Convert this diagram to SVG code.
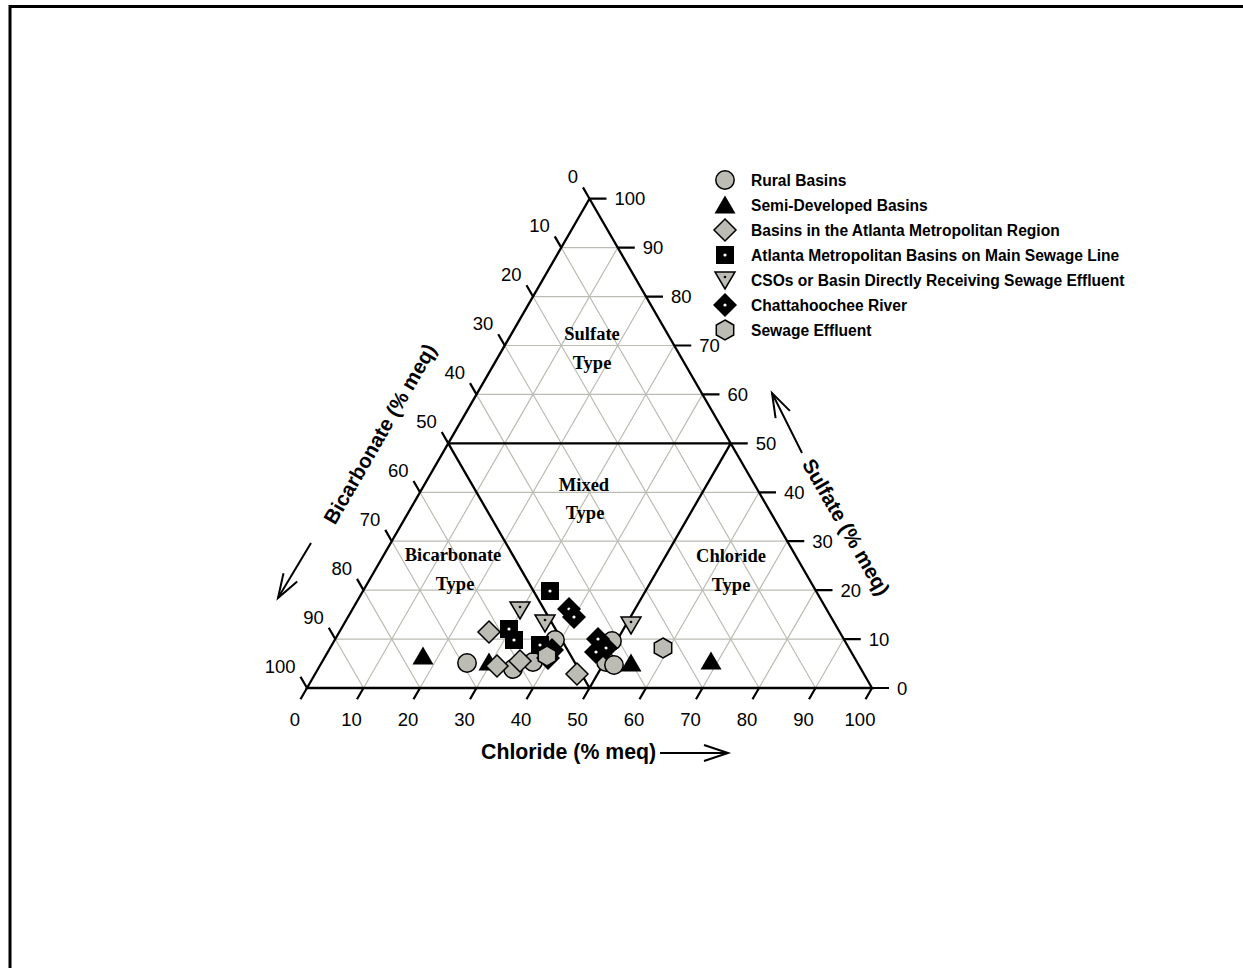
<svg xmlns="http://www.w3.org/2000/svg" xmlns:xlink="http://www.w3.org/1999/xlink" width="1243" height="968" viewBox="0 0 1243 968">
<style>
.grid{stroke:#bcbcb4;stroke-width:1.2;fill:none}
.edge{stroke:#000;stroke-width:2.3;fill:none}
.tick{stroke:#000;stroke-width:2.2;fill:none}
.num{font-family:"Liberation Sans",Arial,sans-serif;font-size:18.5px;fill:#000}
.ttl{font-family:"Liberation Sans",Arial,sans-serif;font-size:20.5px;font-weight:bold;fill:#000}
.reg{font-family:"Liberation Serif","Times New Roman",serif;font-size:18.5px;font-weight:bold;fill:#000;text-anchor:middle}
.leg{font-family:"Liberation Sans",Arial,sans-serif;font-size:15.6px;font-weight:bold;fill:#000}
.arr{stroke:#000;stroke-width:2;fill:none}
</style>
<defs>
<marker id="open" markerUnits="userSpaceOnUse" markerWidth="30" markerHeight="20" viewBox="-26 -10 28 20" refX="0" refY="0" orient="auto" overflow="visible">
<path d="M-24,-8 L0,0 L-24,8" fill="none" stroke="#000" stroke-width="2"/>
</marker>
<g id="circ"><circle r="9.2" fill="#bcbcb4" stroke="#000" stroke-width="1.5"/></g>
<g id="tri"><polygon points="0,-9.5 10.5,8.5 -10.5,8.5" fill="#000"/></g>
<g id="dia"><polygon points="0,-11 11,0 0,11 -11,0" fill="#bcbcb4" stroke="#000" stroke-width="1.5"/></g>
<g id="sq"><rect x="-9" y="-9" width="18" height="18" fill="#000"/><circle r="1.6" fill="#fff"/></g>
<g id="itri"><polygon points="-10,-8 10,-8 0,9" fill="#bcbcb4" stroke="#000" stroke-width="1.5"/><circle cx="0" cy="-3" r="1.3" fill="#000"/></g>
<g id="bdia"><polygon points="0,-12 12,0 0,12 -12,0" fill="#000"/><circle r="1.6" fill="#fff"/></g>
<g id="hex"><polygon points="0,-10 8.7,-5 8.7,5 0,10 -8.7,5 -8.7,-5" fill="#bcbcb4" stroke="#000" stroke-width="1.5"/></g>
</defs>
<rect width="1243" height="968" fill="#fff"/>
<path d="M10,968 V6.5 H1243" stroke="#000" stroke-width="3" fill="none"/>

<g id="grid" class="grid">
<path d="M335.25,639.07H843.75M363.5,590.14H815.5M391.75,541.21H787.25M420,492.28H759M448.25,443.35H730.75M476.5,394.42H702.5M504.75,345.49H674.25M533,296.56H646M561.25,247.63H617.75"/>
<path d="M363.5,688L335.25,639.07M420,688L363.5,590.14M476.5,688L391.75,541.21M533,688L420,492.28M589.5,688L448.25,443.35M646,688L476.5,394.42M702.5,688L504.75,345.49M759,688L533,296.56M815.5,688L561.25,247.63"/>
<path d="M363.5,688L617.75,247.63M420,688L646,296.56M476.5,688L674.25,345.49M533,688L702.5,394.42M589.5,688L730.75,443.35M646,688L759,492.28M702.5,688L787.25,541.21M759,688L815.5,590.14M815.5,688L843.75,639.07"/>
</g>

<g id="triangle">
<polygon class="edge" points="307,688 872,688 589.5,198.7"/>
<path class="edge" d="M448.25,443.35H730.75M448.25,443.35L589.5,688M730.75,443.35L589.5,688"/>
</g>

<g id="ticks" class="tick">
<path d="M589.5,198.7l-6.5,-11.3M561.25,247.63l-6.5,-11.3M533,296.56l-6.5,-11.3M504.75,345.49l-6.5,-11.3M476.5,394.42l-6.5,-11.3M448.25,443.35l-6.5,-11.3M420,492.28l-6.5,-11.3M391.75,541.21l-6.5,-11.3M363.5,590.14l-6.5,-11.3M335.25,639.07l-6.5,-11.3M307,688l-6.5,-11.3"/>
<path d="M872,688h17M843.75,639.07h17M815.5,590.14h17M787.25,541.21h17M759,492.28h17M730.75,443.35h17M702.5,394.42h17M674.25,345.49h17M646,296.56h17M617.75,247.63h17M589.5,198.7h17"/>
<path d="M307,688l-6.5,11.3M363.5,688l-6.5,11.3M420,688l-6.5,11.3M476.5,688l-6.5,11.3M533,688l-6.5,11.3M589.5,688l-6.5,11.3M646,688l-6.5,11.3M702.5,688l-6.5,11.3M759,688l-6.5,11.3M815.5,688l-6.5,11.3M872,688l-6.5,11.3"/>
</g>

<g id="left-labels" class="num" text-anchor="end">
<text x="578" y="183.4">0</text>
<text x="549.75" y="232.3">10</text>
<text x="521.5" y="281.3">20</text>
<text x="493.25" y="330.2">30</text>
<text x="465" y="379.1">40</text>
<text x="436.75" y="428.1">50</text>
<text x="408.5" y="477">60</text>
<text x="380.25" y="525.9">70</text>
<text x="352" y="574.8">80</text>
<text x="323.75" y="623.8">90</text>
<text x="295.5" y="672.7">100</text>
</g>

<g id="right-labels" class="num">
<text x="897" y="694.5">0</text>
<text x="868.75" y="645.6">10</text>
<text x="840.5" y="596.6">20</text>
<text x="812.25" y="547.7">30</text>
<text x="784" y="498.8">40</text>
<text x="755.75" y="449.9">50</text>
<text x="727.5" y="400.9">60</text>
<text x="699.25" y="352">70</text>
<text x="671" y="303.1">80</text>
<text x="642.75" y="254.1">90</text>
<text x="614.5" y="205.2">100</text>
</g>

<g id="bottom-labels" class="num" text-anchor="middle">
<text x="295" y="726">0</text>
<text x="351.5" y="726">10</text>
<text x="408" y="726">20</text>
<text x="464.5" y="726">30</text>
<text x="521" y="726">40</text>
<text x="577.5" y="726">50</text>
<text x="634" y="726">60</text>
<text x="690.5" y="726">70</text>
<text x="747" y="726">80</text>
<text x="803.5" y="726">90</text>
<text x="860" y="726">100</text>
</g>

<g id="axis-titles">
<text class="ttl" x="481" y="759" style="font-size:21.3px">Chloride (% meq)</text>
<text class="ttl" text-anchor="middle" transform="translate(380,434) rotate(-60)" y="7">Bicarbonate (% meq)</text>
<text class="ttl" text-anchor="middle" transform="translate(846,527) rotate(60)" y="7">Sulfate (% meq)</text>
</g>

<g id="connectors">
<line class="arr" x1="660" y1="753" x2="728" y2="753" marker-end="url(#open)"/>
<line class="arr" x1="311" y1="543" x2="278" y2="598" marker-end="url(#open)"/>
<line class="arr" x1="802" y1="453" x2="772" y2="393" marker-end="url(#open)"/>
</g>

<g id="region-labels">
<text class="reg" x="592" y="340">Sulfate</text>
<text class="reg" x="592" y="369">Type</text>
<text class="reg" x="584" y="491">Mixed</text>
<text class="reg" x="585" y="519">Type</text>
<text class="reg" x="453" y="561">Bicarbonate</text>
<text class="reg" x="455" y="590">Type</text>
<text class="reg" x="731" y="562">Chloride</text>
<text class="reg" x="731" y="591">Type</text>
</g>

<g id="rural-basins">
<use href="#circ" x="467" y="663"/>
<use href="#circ" x="513" y="669"/>
<use href="#circ" x="533" y="662"/>
<use href="#circ" x="555" y="640"/>
<use href="#circ" x="612" y="641"/>
<use href="#circ" x="606" y="662"/>
<use href="#circ" x="614" y="665"/>
</g>
<g id="semi-developed">
<use href="#tri" x="423" y="656"/>
<use href="#tri" x="489" y="662"/>
<use href="#tri" x="631" y="663"/>
<use href="#tri" x="711" y="661"/>
</g>
<g id="atlanta-region">
<use href="#dia" x="489" y="632"/>
<use href="#dia" x="497" y="666"/>
<use href="#dia" x="520" y="661"/>
<use href="#dia" x="577" y="674"/>
</g>
<g id="main-sewage-line">
<use href="#sq" x="550" y="591"/>
<use href="#sq" x="509" y="629"/>
<use href="#sq" x="514" y="640"/>
<use href="#sq" x="540" y="645"/>
</g>
<g id="csos">
<use href="#itri" x="520" y="610"/>
<use href="#itri" x="545" y="623"/>
<use href="#itri" x="631" y="625"/>
</g>
<g id="chattahoochee">
<use href="#bdia" x="569" y="609"/>
<use href="#bdia" x="574" y="617"/>
<use href="#bdia" x="552" y="650"/>
<use href="#bdia" x="548" y="658"/>
<use href="#bdia" x="598" y="639"/>
<use href="#bdia" x="606" y="648"/>
<use href="#bdia" x="596" y="652"/>
</g>
<g id="sewage-effluent">
<use href="#hex" x="547" y="656"/>
<use href="#hex" x="663" y="648"/>
</g>

<g id="legend">
<use href="#circ" x="725" y="180"/>
<use href="#tri" x="725" y="205"/>
<use href="#dia" x="725" y="230"/>
<use href="#sq" x="725" y="255"/>
<use href="#itri" x="725" y="280"/>
<use href="#bdia" x="725" y="305"/>
<use href="#hex" x="725" y="330"/>
<text class="leg" x="751" y="185.5">Rural Basins</text>
<text class="leg" x="751" y="210.5">Semi-Developed Basins</text>
<text class="leg" x="751" y="235.5">Basins in the Atlanta Metropolitan Region</text>
<text class="leg" x="751" y="260.5">Atlanta Metropolitan Basins on Main Sewage Line</text>
<text class="leg" x="751" y="285.5">CSOs or Basin Directly Receiving Sewage Effluent</text>
<text class="leg" x="751" y="310.5">Chattahoochee River</text>
<text class="leg" x="751" y="335.5">Sewage Effluent</text>
</g>
</svg>
